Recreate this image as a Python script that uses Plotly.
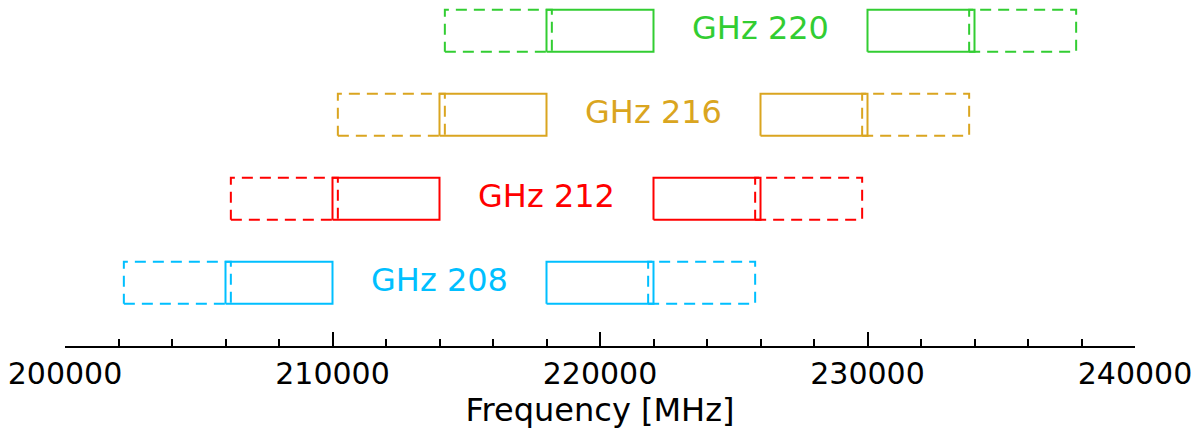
import plotly.graph_objects as go

# ---- data (MHz) ----
bands = ["GHz 208", "GHz 212", "GHz 216", "GHz 220"]
colors = ["#00BFFF", "#FF0000", "#DAA520", "#32CD32"]
label_centers = [214000, 218000, 222000, 226000]
solid_lsb_lo = [206000, 210000, 214000, 218000]
solid_lsb_hi = [210000, 214000, 218000, 222000]
solid_usb_lo = [218000, 222000, 226000, 230000]
solid_usb_hi = [222000, 226000, 230000, 234000]
dash_lsb_lo = [202200, 206200, 210200, 214200]
dash_lsb_hi = [206200, 210200, 214200, 218200]
dash_usb_lo = [221800, 225800, 229800, 233800]
dash_usb_hi = [225800, 229800, 233800, 237800]
row_pos = [0, 1, 2, 3]
half_h = 0.25

x_min, x_max = 200000, 240000
major_step = 10000
minor_step = 2000

FONT = "DejaVu Sans"

fig = go.Figure()


def rect(x0, x1, y, color, dash):
    fig.add_trace(go.Scatter(
        x=[x0, x1, x1, x0, x0],
        y=[y - half_h, y - half_h, y + half_h, y + half_h, y - half_h],
        mode="lines",
        line=dict(color=color, width=2, dash=dash),
        hoverinfo="skip", showlegend=False))


for i in range(len(bands)):
    c = colors[i]
    y = row_pos[i]
    rect(dash_lsb_lo[i], dash_lsb_hi[i], y, c, "11px,7px")
    rect(dash_usb_lo[i], dash_usb_hi[i], y, c, "11px,7px")
    rect(solid_lsb_lo[i], solid_lsb_hi[i], y, c, "solid")
    rect(solid_usb_lo[i], solid_usb_hi[i], y, c, "solid")
    fig.add_trace(go.Scatter(
        x=[label_centers[i]], y=[y], mode="text", text=[bands[i]],
        textfont=dict(family=FONT, size=32, color=c),
        textposition="middle center", hoverinfo="skip", showlegend=False))

fig.update_layout(
    width=1192, height=434,
    margin=dict(l=57, r=65, t=0, b=96),
    paper_bgcolor="white", plot_bgcolor="white",
    font=dict(family=FONT, size=30, color="black"),
    xaxis=dict(
        range=[x_min, x_max], automargin=False,
        showline=True, linecolor="black", linewidth=2,
        showgrid=False, zeroline=False,
        tickmode="linear", tick0=x_min, dtick=major_step, tickformat="d",
        ticklabeloverflow="allow",
        ticks="inside", ticklen=14, tickwidth=2, tickcolor="black",
        tickfont=dict(family=FONT, size=30, color="black"),
        minor=dict(tickmode="linear", tick0=x_min, dtick=minor_step, ticks="inside",
                   ticklen=7, tickwidth=2, tickcolor="black"),
        title=dict(text="Frequency [MHz]", font=dict(family=FONT, size=32, color="black"), standoff=4),
    ),
    yaxis=dict(range=[-0.752, 3.271], visible=False, fixedrange=True),
)

fig.write_html("out.html")
